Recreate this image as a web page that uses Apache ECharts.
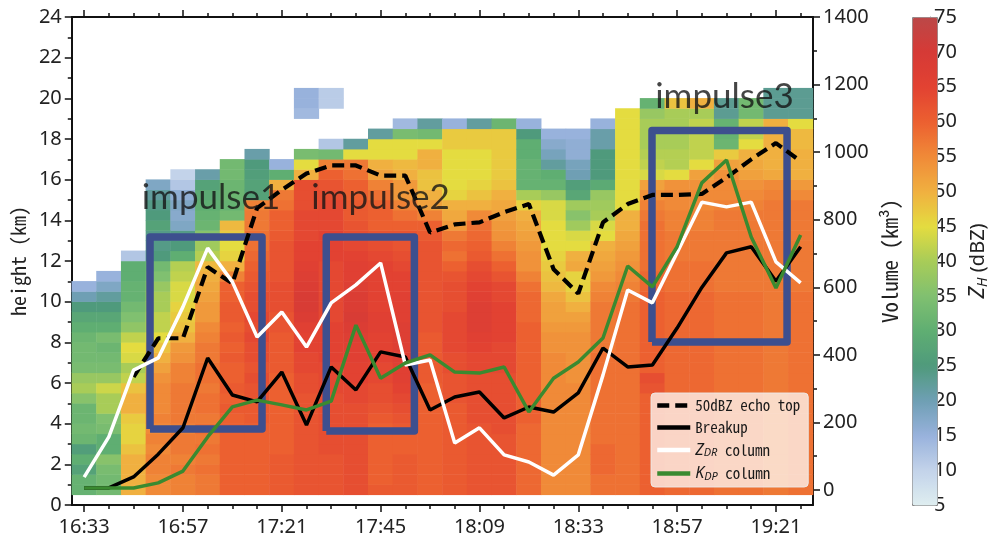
<!DOCTYPE html>
<html><head><meta charset="utf-8">
<script src="https://cdn.jsdelivr.net/npm/echarts@6/dist/echarts.min.js"></script>
<style>html,body{margin:0;padding:0;background:#fff}#c{width:991px;height:550px}</style>
</head><body><div id="c"></div>
<script>
// ---------------- DATA ----------------
const TIMES = ['16:33','16:39','16:45','16:51','16:57','17:03','17:09','17:15','17:21','17:27',
  '17:33','17:39','17:45','17:51','17:57','18:03','18:09','18:15','18:21','18:27',
  '18:33','18:39','18:45','18:51','18:57','19:03','19:09','19:15','19:21','19:27'];
// lower edge (km) of each 0.5 km height bin
const HEIGHT_BINS = [0,0.5,1,1.5,2,2.5,3,3.5,4,4.5,5,5.5,6,6.5,7,7.5,8,8.5,9,9.5,10,10.5,11,11.5,
  12,12.5,13,13.5,14,14.5,15,15.5,16,16.5,17,17.5,18,18.5,19,19.5,20,20.5,21,21.5,22,22.5,23,23.5];
// ZH (dBZ) per time column, listed from the 0.5 km bin upward (null = no echo)
const ZH_COLS = [
 [31,31,27,30,26,32,33,32,32,36,40,38,34,33,33,32,30,28,25,20,15],
 [33,33,34,36,30,30,34,35,40,40,43,38,34,33,32,34,30,28,25,22,18,15],
 [50,50,50,50,48,46,46,47,50,50,48,42,40,44,45,42,37,35,33,31,31,30,30,12],
 [55,55,56,56,55,56,55,56,55,55,55,54,52,50,48,45,42,42,40,40,38,35,33,25,24,24,27,25,24,22,18],
 [56,56,57,56,57,57,56,57,57,57,57,56,56,54,53,50,48,47,46,44,44,42,41,30,25,24,18,17,18,16,12,10],
 [57,57,58,57,58,57,58,57,58,58,57,58,58,57,57,56,55,53,53,52,51,50,49,41,39,36,32,31,30,29,27,21],
 [60,60,60,60,60,60,60,60,61,60,61,60,60,61,60,61,60,61,61,60,60,56,50,46,45,47,49,33,31,32,32,33,33],
 [60,60,60,60,60,60,60,61,61,62,62,63,62,63,63,64,63,64,63,63,62,61,60,59,58,58,57,57,56,27,27,26,25,21],
 [61,61,61,61,60,60,60,60,60,60,60,60,61,61,61,61,62,62,63,63,63,62,62,62,62,61,60,60,58,57,50,30,15],
 [62,62,62,62,62,62,62,62,62,62,63,63,64,64,65,65,66,68,69,69,68,67,66,65,65,64,64,64,63,63,63,50,45,34,null,null,null,14,15,15],
 [62,62,62,62,63,63,63,63,63,63,64,64,64,65,65,65,65,64,64,64,64,64,64,65,65,65,64,64,64,63,62,60,56,33,12,null,null,null,11,11],
 [63,63,63,63,63,63,63,63,63,64,64,65,65,66,66,67,68,69,68,68,67,66,66,65,64,63,62,61,61,60,60,58,57,45,22],
 [61,60,60,60,60,60,60,61,62,63,63,64,64,65,65,65,66,66,65,65,65,65,65,64,63,62,60,60,60,58,56,52,50,45,45,22],
 [61,61,61,61,60,60,61,62,63,64,65,66,66,67,67,67,67,66,66,66,65,65,64,63,62,62,60,58,56,53,53,50,49,45,45,34,14],
 [60,60,60,60,60,60,60,60,60,60,60,61,61,61,61,61,62,62,62,62,62,62,62,62,62,61,60,56,52,50,48,48,50,50,45,33,22],
 [61,61,61,61,61,61,61,61,61,62,62,62,63,63,64,64,64,64,63,63,63,62,60,58,59,57,53,51,50,46,45,45,45,45,47,47,15],
 [62,62,62,62,62,62,62,63,63,63,63,63,64,64,65,66,67,67,67,66,65,64,63,61,60,59,58,55,50,48,46,45,45,45,47,47,22],
 [62,62,62,62,62,62,63,63,63,63,63,63,64,64,64,65,65,65,65,64,64,62,60,58,56,54,53,52,51,50,48,47,47,47,47,47,32],
 [59,59,59,59,59,59,59,60,60,60,60,60,60,60,60,60,60,59,59,59,58,56,54,54,53,52,51,50,46,40,31,31,31,30,30,25,15],
 [55,55,55,55,55,55,55,55,55,55,55,55,55,55,54,54,53,52,52,51,49,48,47,46,45,45,45,44,44,38,31,30,22,19,17,15],
 [55,55,55,55,55,55,55,55,55,55,55,54,54,54,54,54,53,52,50,48,46,46,51,50,45,44,39,36,39,28,26,20,19,16,16,15],
 [58,58,59,59,59,58,58,58,58,58,58,58,58,58,57,57,57,57,57,56,55,53,52,51,50,45,44,40,39,38,29,25,25,25,21,21,15],
 [58,58,58,58,58,58,58,58,58,58,58,58,58,58,58,58,58,58,58,57,56,55,54,53,52,51,50,50,45,45,45,45,45,45,45,45,45,45],
 [60,60,60,60,60,60,60,60,60,60,62,63,60,60,60,60,60,60,60,60,59,59,58,58,58,58,58,57,56,54,52,44,42,41,40,40,40,38,31],
 [59,59,59,59,59,59,59,59,59,59,59,59,59,59,59,59,59,59,59,59,58,58,58,57,57,57,56,56,55,55,54,45,41,41,40,40,40,40,48],
 [59,59,59,59,59,59,59,59,59,59,59,59,59,59,59,59,59,59,59,59,58,58,58,57,57,57,56,56,55,55,54,52,45,42,42,42,42,40,50],
 [58,58,58,58,58,58,58,58,58,58,58,58,58,58,58,58,58,58,58,58,57,57,57,57,57,57,57,57,56,55,55,54,52,47,32,31,31,23,23],
 [58,58,58,58,58,58,58,58,58,58,58,58,58,58,58,58,58,58,58,58,57,57,57,57,57,57,57,57,56,55,54,52,51,50,45,42,42,33,33],
 [57,57,57,57,57,57,57,57,57,57,57,57,57,57,57,57,57,57,57,57,57,57,57,57,57,57,57,57,57,56,55,51,50,50,50,50,50,23,23,23],
 [58,58,58,58,58,58,58,58,58,58,58,58,58,58,58,58,58,58,58,58,57,57,57,57,57,57,57,57,57,55,53,50,50,50,49,49,45,23,23,23]
];
// lines
const ECHO_TOP_KM = [null,null,6.3,8.2,8.2,11.7,10.9,14.6,15.5,16.3,16.7,16.7,16.2,16.2,13.4,13.8,13.9,14.4,14.8,11.6,10.4,13.9,14.8,15.25,15.25,15.3,16.1,17.0,17.8,16.9];
const BREAKUP_KM = [0.84,0.84,1.38,2.5,3.8,7.23,5.41,5.07,6.54,3.93,6.79,5.66,7.53,7.28,4.67,5.31,5.56,4.28,4.82,4.57,5.51,7.72,6.79,6.89,8.7,10.7,12.4,12.7,11.0,12.7];
const ZDR_COL_VOL = [38,157,355,391,542,716,616,453,527,423,554,607,672,370,385,139,184,104,83,44,104,340,592,554,702,852,838,852,675,613];
const KDP_COL_VOL = [6,6,6,21,56,157,246,266,252,237,263,488,331,376,400,349,346,364,231,331,379,450,663,601,720,909,977,749,598,755];
// impulse boxes (minutes after midnight, km)
const IMPULSE_NAMES = ['impulse1','impulse2','impulse3'];
const IMPULSE_T0 = [1009.0, 1051.8, 1130.9];
const IMPULSE_T1 = [1036.2, 1073.2, 1163.7];
const IMPULSE_H0 = [3.74, 3.64, 8.02];
const IMPULSE_H1 = [13.18, 13.18, 18.42];
const IMPULSE_LABEL_T = [1023.8, 1065.0, 1148.5];
const IMPULSE_LABEL_H = [15.1, 15.1, 20.1];
// axes
const VOL_MAJOR = [0,200,400,600,800,1000,1200,1400];
const VOL_MINOR = [100,300,500,700,900,1100,1300];
const ZH_COLORS = ['#dfeef0','#c3d3ea','#98b2dc','#6f9fb4','#4f9a7c','#5fae72','#80c070','#a8cc58','#e4dc40','#f0b040','#f08a38','#ec6030','#e24232','#d63a36','#bb4848'];

// ---------------- BUILD ----------------
const heatData = [];
ZH_COLS.forEach((col, i) => col.forEach((v, k) => { if (v != null) heatData.push([i, k + 1, v]); }));

const FONT = '"Noto Sans", "DejaVu Sans", sans-serif';
const MONO = '"Noto Sans Mono CJK SC", "DejaVu Sans Mono", monospace';
const AX = '#111';

function catX(extra) {
  return Object.assign({type:'category', data:TIMES, gridIndex:0, boundaryGap:true,
    axisLine:{show:false,onZero:false}, axisTick:{show:false}, axisLabel:{show:false},
    splitLine:{show:false}}, extra);
}
const boxSeries = IMPULSE_NAMES.map((n, j) => ({
  type:'line', name:n + ' box', xAxisIndex:4, yAxisIndex:1, symbol:'none', z:2, silent:true,
  lineStyle:{color:'#3d4f8e', width:7.5, join:'round'},
  data:[[IMPULSE_T0[j],IMPULSE_H0[j]],[IMPULSE_T1[j],IMPULSE_H0[j]],[IMPULSE_T1[j],IMPULSE_H1[j]],
        [IMPULSE_T0[j],IMPULSE_H1[j]],[IMPULSE_T0[j],IMPULSE_H0[j]]]
}));

const option = {
  animation:false,
  grid:[{left:71, top:17, width:742, height:488, show:false},
        {left:912, top:17, width:25, height:488, show:false}],
  xAxis:[
    catX({position:'bottom', axisLine:{show:true,onZero:false,lineStyle:{color:AX,width:2}},
      axisTick:{show:true, interval:3, alignWithLabel:true, length:7, lineStyle:{color:AX,width:1.5}},
      axisLabel:{show:true, interval:3, color:'#222', fontSize:20, fontFamily:FONT, margin:12}}),
    catX({position:'bottom', axisTick:{show:true, interval:0, alignWithLabel:true, length:4, lineStyle:{color:AX,width:1.5}}}),
    catX({position:'top', axisLine:{show:true,onZero:false,lineStyle:{color:AX,width:2}},
      axisTick:{show:true, interval:3, alignWithLabel:true, length:7, lineStyle:{color:AX,width:1.5}}}),
    catX({position:'top', axisTick:{show:true, interval:0, alignWithLabel:true, length:4, lineStyle:{color:AX,width:1.5}}}),
    {type:'value', gridIndex:0, min:990, max:1170, show:false},
    {type:'value', gridIndex:1, min:0, max:1, show:false}
  ],
  yAxis:[
    {type:'category', data:HEIGHT_BINS, gridIndex:0, show:false, boundaryGap:true},
    {type:'value', gridIndex:0, position:'left', min:0, max:24, interval:2,
      axisLine:{show:true,onZero:false,lineStyle:{color:AX,width:2}},
      axisTick:{show:true,length:7,lineStyle:{color:AX,width:1.5}},
      minorTick:{show:true,splitNumber:2,length:4,lineStyle:{color:AX,width:1.5}},
      splitLine:{show:false}, minorSplitLine:{show:false},
      axisLabel:{color:'#222', fontSize:20, fontFamily:FONT, margin:10},
      name:'height (km)', nameLocation:'middle', nameGap:42,
      nameTextStyle:{fontFamily:MONO, fontSize:20, color:'#222'}},
    {type:'value', gridIndex:0, position:'right', min:-44.4, max:1400,
      axisLine:{show:true,onZero:false,lineStyle:{color:AX,width:2}},
      axisTick:{show:true,length:7,customValues:VOL_MAJOR,lineStyle:{color:AX,width:1.5}},
      axisLabel:{customValues:VOL_MAJOR, formatter:v=>String(Math.round(v)), color:'#222', fontSize:20, fontFamily:FONT, margin:10},
      splitLine:{show:false},
      name:'Volume (km³)', nameLocation:'middle', nameGap:66,
      nameTextStyle:{fontFamily:MONO, fontSize:21, color:'#222'}},
    {type:'value', gridIndex:0, position:'right', min:-44.4, max:1400,
      axisLine:{show:false,onZero:false},
      axisTick:{show:true,length:4,customValues:VOL_MINOR,lineStyle:{color:AX,width:1.5}},
      axisLabel:{show:false}, splitLine:{show:false}},
    {type:'value', gridIndex:1, position:'right', min:5, max:75, interval:5,
      axisLine:{show:true,onZero:false,lineStyle:{color:'#888',width:1}},
      axisTick:{show:true,length:5,lineStyle:{color:'#888',width:1}},
      axisLabel:{color:'#222', fontSize:20, fontFamily:FONT, margin:4},
      splitLine:{show:false},
      name:'{it|Z}{sub|H}{t| (dBZ)}', nameLocation:'middle', nameGap:36,
      nameTextStyle:{fontFamily:FONT, fontSize:20, color:'#222',
        rich:{it:{fontStyle:'italic', fontSize:22, fontFamily:FONT, color:'#222'},
              sub:{fontStyle:'italic', fontSize:14, fontFamily:FONT, color:'#222', verticalAlign:'bottom', padding:[10,0,0,0]},
              t:{fontSize:20, fontFamily:FONT, color:'#222'}}}}
  ],
  visualMap:{type:'continuous', min:5, max:75, seriesIndex:0, calculable:false, orient:'vertical',
    left:912, top:17, itemWidth:25, itemHeight:488, text:null, padding:0, hoverLink:false,
    borderColor:'#888', borderWidth:1, inRange:{color:ZH_COLORS}},
  legend:{data:['50dBZ echo top','Breakup','ZDR column','KDP column'], orient:'vertical',
    left:651, top:393, itemWidth:33, itemHeight:14, itemGap:7, padding:[5,8,5,4], selectedMode:false,
    itemStyle:{opacity:0, borderWidth:0}, lineStyle:{width:4.5},
    backgroundColor:'rgba(255,255,255,0.72)', borderColor:'rgba(235,235,235,0.9)', borderWidth:1, borderRadius:4,
    textStyle:{fontFamily:MONO, fontSize:15, color:'#1a1a1a',
      rich:{t:{fontFamily:MONO, fontSize:15, color:'#1a1a1a'},
            it:{fontFamily:FONT, fontStyle:'italic', fontSize:16, color:'#1a1a1a'},
            sub:{fontFamily:FONT, fontStyle:'italic', fontSize:11, color:'#1a1a1a', verticalAlign:'bottom', padding:[6,0,0,0]}}},
    formatter:function(n){
      if (n === 'ZDR column') return '{it|Z}{sub|DR}{t| column}';
      if (n === 'KDP column') return '{it|K}{sub|DP}{t| column}';
      return '{t|' + n + '}';
    }},
  series:[
    {type:'heatmap', xAxisIndex:0, yAxisIndex:0, data:heatData, progressive:0, z:1,
      itemStyle:{borderWidth:0}, emphasis:{disabled:true}, silent:true},
    ...boxSeries,
    {type:'line', name:'50dBZ echo top', xAxisIndex:0, yAxisIndex:1, data:ECHO_TOP_KM, symbol:'none', z:3,
      lineStyle:{color:'#000', width:4.2, type:[12,6]}, itemStyle:{color:'#000'}},
    {type:'line', name:'Breakup', xAxisIndex:0, yAxisIndex:1, data:BREAKUP_KM, symbol:'none', z:3,
      lineStyle:{color:'#000', width:3.5}, itemStyle:{color:'#000'}},
    {type:'line', name:'ZDR column', xAxisIndex:0, yAxisIndex:2, data:ZDR_COL_VOL, symbol:'none', z:3,
      lineStyle:{color:'#fff', width:3.5}, itemStyle:{color:'#fff'}},
    {type:'line', name:'KDP column', xAxisIndex:0, yAxisIndex:2, data:KDP_COL_VOL, symbol:'none', z:3,
      lineStyle:{color:'#3a8a30', width:3.5}, itemStyle:{color:'#3a8a30'}},
    {type:'scatter', name:'labels', xAxisIndex:4, yAxisIndex:1, symbolSize:0.1, z:5, silent:true,
      itemStyle:{color:'rgba(0,0,0,0)'},
      data:IMPULSE_NAMES.map((n,j)=>[IMPULSE_LABEL_T[j], IMPULSE_LABEL_H[j], n]),
      label:{show:true, position:'inside', formatter:p=>p.data[2], fontSize:35, fontFamily:'Lato, "Noto Sans", sans-serif', color:'#151515'}}
  ]
};
const chart = echarts.init(document.getElementById('c'));
chart.setOption(option);
</script></body></html>
